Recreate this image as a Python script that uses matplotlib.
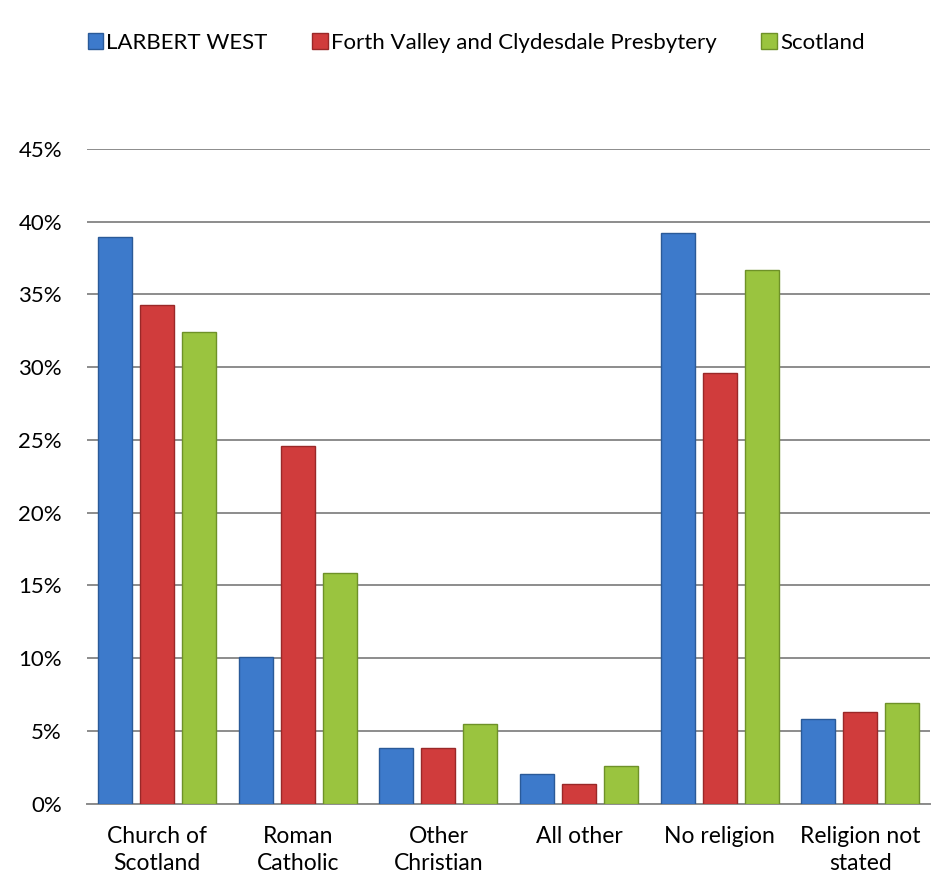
import numpy as np
import matplotlib
matplotlib.use("Agg")
import matplotlib.pyplot as plt
from matplotlib.patches import Patch

plt.rcParams['font.family'] = ['Lato', 'DejaVu Sans']

categories = ["Church of\nScotland", "Roman\nCatholic", "Other\nChristian",
              "All other", "No religion", "Religion not\nstated"]
series_names = ["LARBERT WEST", "Forth Valley and Clydesdale Presbytery", "Scotland"]
larbert = [38.97, 10.1, 3.81, 2.02, 39.23, 5.81]
forth_valley = [34.3, 24.6, 3.8, 1.33, 29.6, 6.29]
scotland = [32.45, 15.85, 5.46, 2.57, 36.67, 6.95]
yticks = [0, 5, 10, 15, 20, 25, 30, 35, 40, 45]

colors = ["#3D7ACB", "#D03C3C", "#9AC43F"]
edges = ["#2A5A98", "#9A2828", "#6E9128"]

fig = plt.figure(figsize=(9.32, 8.77), dpi=100)
ax = fig.add_axes([0.0933, 0.0836, 0.905, 0.7465])

x = np.arange(len(categories))
width = 0.242
pitch = 0.299
for i, vals in enumerate([larbert, forth_valley, scotland]):
    ax.bar(x + (i - 1) * pitch, vals, width, color=colors[i],
           edgecolor=edges[i], linewidth=1.0, zorder=3)

ax.set_xlim(-0.5, len(categories) - 0.5)
ax.set_ylim(0, 45)
ax.set_yticks(yticks)
ax.set_yticklabels([f"{t}%" for t in yticks])
ax.yaxis.grid(True, color="#8C8C8C", linewidth=1.4, zorder=0)
ax.set_axisbelow(True)
ax.set_xticks(x)
ax.set_xticklabels(categories, linespacing=1.36)
ax.tick_params(axis='x', length=0, labelsize=16.5, colors="black", pad=16)
ax.tick_params(axis='y', length=0, labelsize=16, colors="black", pad=18)
for s in ["left", "right", "top"]:
    ax.spines[s].set_visible(False)
ax.spines["bottom"].set_color("#8C8C8C")
ax.spines["bottom"].set_linewidth(1.4)

handles = [Patch(facecolor=colors[i], edgecolor=edges[i]) for i in range(3)]
fig.legend(handles, series_names, loc="center", bbox_to_anchor=(0.511, 0.951),
           ncol=3, frameon=False, fontsize=16, handlelength=0.7,
           handleheight=0.7, handletextpad=0.15, columnspacing=2.0)

fig.savefig("out.png", dpi=100)
